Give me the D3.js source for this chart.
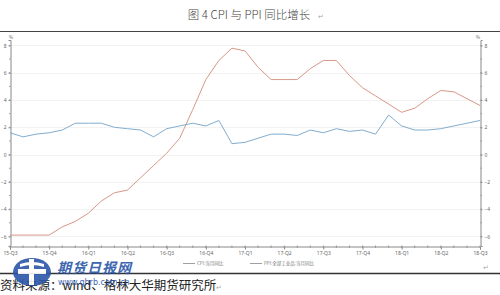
<!DOCTYPE html>
<html>
<head>
<meta charset="utf-8">
<script src="https://cdn.jsdelivr.net/npm/d3@7/dist/d3.min.js"></script>
<style>
body{margin:0;background:#fff;}
svg{display:block;font-family:"Noto Sans CJK SC","Noto Sans",sans-serif;}
</style>
</head>
<body>
<svg id="chart"></svg>
<script>
var width = 500, height = 295;

// monthly, Sep 2015 .. Sep 2018
var cpi = [1.6,1.3,1.5,1.6, 1.8,2.3,2.3,2.3,2.0,1.9,1.8,1.3,1.9,2.1,2.3,2.1,
           2.5,0.8,0.9,1.2,1.5,1.5,1.4,1.8,1.6,1.9,1.7,1.8,
           1.5,2.9,2.1,1.8,1.8,1.9,2.1,2.3,2.5];
var ppi = [-5.9,-5.9,-5.9,-5.9, -5.3,-4.9,-4.3,-3.4,-2.8,-2.6,-1.7,-0.8,0.1,1.2,3.3,5.5,
           6.9,7.8,7.6,6.4,5.5,5.5,5.5,6.3,6.9,6.9,5.8,4.9,
           4.3,3.7,3.1,3.4,4.1,4.7,4.6,4.1,3.6];
var quarterLabels = ["15-Q3","15-Q4","16-Q1","16-Q2","16-Q3","16-Q4","17-Q1","17-Q2","17-Q3","17-Q4","18-Q1","18-Q2","18-Q3"];
var yTicks = [-6,-4,-2,0,2,4,6,8];
var seriesNames = ["CPI:当月同比","PPI:全部工业品:当月同比"];

var svg = d3.select("#chart").attr("width", width).attr("height", height);

// title + rules
svg.append("text").attr("x", 249).attr("y", 19).attr("text-anchor","middle")
  .attr("font-size", 11.5).attr("font-weight", 300).attr("fill","#444")
  .text("图 4  CPI 与 PPI 同比增长");
svg.append("text").attr("x", 318).attr("y", 19).attr("font-size", 7).attr("fill","#aaa").text("↵");
svg.append("line").attr("x1",0).attr("x2",500).attr("y1",31.5).attr("y2",31.5).attr("stroke","#444").attr("stroke-width",1.2);
svg.append("line").attr("x1",0).attr("x2",500).attr("y1",273.5).attr("y2",273.5).attr("stroke","#333").attr("stroke-width",1.5);

var x = d3.scaleLinear().domain([0, cpi.length-1]).range([10, 480]);
var y = d3.scaleLinear().domain([-6.7, 8.4]).range([246, 40]);

// grid
svg.append("g").selectAll("line").data(yTicks).enter().append("line")
  .attr("x1",10).attr("x2",480).attr("y1",function(d){return Math.round(y(d))+0.5}).attr("y2",function(d){return Math.round(y(d))+0.5})
  .attr("stroke","#f2f2f2");

// axes
var leftAxis = d3.axisLeft(y).tickValues(yTicks).tickSize(2).tickPadding(2);
var rightAxis = d3.axisRight(y).tickValues(yTicks).tickSize(2).tickPadding(2);
var minorY = d3.range(-6, 9, 1);

function styleAxis(g){
  g.select(".domain").attr("stroke","#888");
  g.selectAll(".tick line").attr("stroke","#888");
  g.selectAll("text").attr("font-size",5).attr("fill","#666").attr("font-family","'Noto Sans',sans-serif");
}
var gl = svg.append("g").attr("transform","translate(10.5,0)").call(leftAxis).call(styleAxis);
var gr = svg.append("g").attr("transform","translate(480.5,0)").call(rightAxis).call(styleAxis);
[gl, gr].forEach(function(g, i){
  g.selectAll(".minor").data(minorY).enter().append("line").attr("class","minor")
    .attr("x1", i ? 0 : -1.5).attr("x2", i ? 1.5 : 0)
    .attr("y1", function(d){return y(d)}).attr("y2", function(d){return y(d)}).attr("stroke","#999");
});
svg.append("text").attr("x",9).attr("y",39).attr("font-size",4.5).attr("fill","#666").text("%");
svg.append("text").attr("x",476).attr("y",39).attr("font-size",4.5).attr("fill","#666").text("%");

var xAxis = d3.axisBottom(x).tickValues(d3.range(0, cpi.length, 3))
  .tickFormat(function(d){return quarterLabels[d/3]}).tickSize(3).tickPadding(2);
var gx = svg.append("g").attr("transform","translate(0,246.5)").call(xAxis).call(styleAxis);
gx.selectAll(".minor").data(d3.range(0, cpi.length)).enter().append("line").attr("class","minor")
  .attr("x1", function(d){return x(d)}).attr("x2", function(d){return x(d)})
  .attr("y1",-1).attr("y2",1.5).attr("stroke","#999");

// lines
var line = d3.line().x(function(d,i){return x(i)}).y(function(d){return y(d)});
svg.append("path").datum(ppi).attr("d", line).attr("fill","none").attr("stroke","#d89887").attr("stroke-width",1);
svg.append("path").datum(cpi).attr("d", line).attr("fill","none").attr("stroke","#82adce").attr("stroke-width",1);

// legend
var legend = svg.append("g");
var legX = [183, 250];
seriesNames.forEach(function(n, i){
  legend.append("line").attr("x1",legX[i]).attr("x2",legX[i]+12).attr("y1",263.5).attr("y2",263.5).attr("stroke","#888").attr("stroke-width",0.8);
  legend.append("text").attr("x",legX[i]+14).attr("y",265).attr("font-size",4.5).attr("fill","#777").text(n);
});
svg.append("text").attr("x",483).attr("y",270).attr("font-size",7).attr("fill","#aaa").text("↵");

// source
svg.append("text").attr("x",0).attr("y",290).attr("font-size",12.5).attr("fill","#222").text("资料来源：wind、格林大华期货研究所");
svg.append("text").attr("x",216).attr("y",290).attr("font-size",7).attr("fill","#aaa").text("↵");

// watermark
var wm = svg.append("g").attr("opacity",0.9);
wm.append("ellipse").attr("cx",32).attr("cy",272).attr("rx",19).attr("ry",14).attr("fill","#2b56a8");
wm.append("path").attr("d","M20,264 Q32,260 44,264 L44,267 Q32,263 20,267 Z").attr("fill","#fff");
wm.append("rect").attr("x",18).attr("y",269).attr("width",28).attr("height",5).attr("fill","#fff");
wm.append("rect").attr("x",29).attr("y",259).attr("width",5).attr("height",26).attr("fill","#fff");
wm.append("text").attr("x",57).attr("y",273).attr("font-size",14).attr("font-weight","bold").attr("font-style","italic")
  .attr("fill","#2b56a8").attr("letter-spacing",1).text("期货日报网");
wm.append("text").attr("x",58).attr("y",285).attr("font-size",8).attr("fill","#2b56a8").attr("font-family","'DejaVu Sans',sans-serif").text("www.qhrb.com.cn");
</script>
</body>
</html>
